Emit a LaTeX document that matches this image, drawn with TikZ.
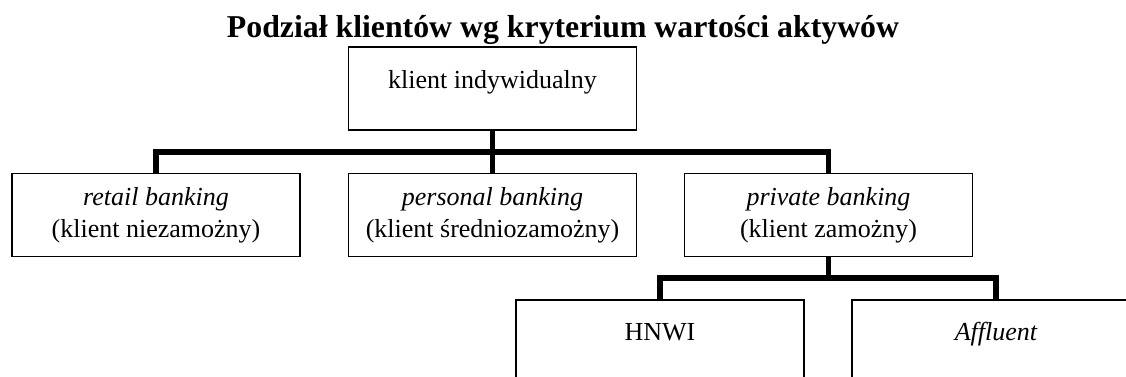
\documentclass[tikz,border=0pt]{standalone}
\usepackage{fontspec}
\setmainfont{Liberation Serif}
\usetikzlibrary{positioning}

\begin{document}
\begin{tikzpicture}[x=0.5pt,y=0.5pt,
  box/.style={draw, line width=0.75pt, minimum width=144pt, minimum height=41.5pt, inner sep=0pt},
  txt/.style={font=\fontsize{13}{16}\selectfont, inner sep=0pt, anchor=base},
  bar/.style={line width=2.6pt}]
\useasboundingbox (0,0) rectangle (1126,376);
\clip (0,0) rectangle (1126,376);
\node[font=\fontsize{15.9}{19}\selectfont\bfseries, inner sep=0pt, anchor=base] (title) at (563,339) {Podział klientów wg kryterium wartości aktywów};
% the boxes
\node[box] (klient) at (492.5,287.5) {};
\node[box] (retail) at (156,161) {};
\node[box] (personal) at (492.5,161) {};
\node[box] (private) at (828.5,161) {};
\node[box] (hnwi) at (660,34.5) {};
\node[box] (affluent) at (996,34.5) {};
% the texts
\node[txt] (tklient) at (492.5,287) {klient indywidualny};
\node[txt] (tretail) at (156,171) {\itshape retail banking};
\node[txt] (tretail2) at (156,139) {(klient niezamożny)};
\node[txt] (tpersonal) at (492.5,171) {\itshape personal banking};
\node[txt] (tpersonal2) at (492.5,139) {(klient średniozamożny)};
\node[txt] (tprivate) at (828.5,171) {\itshape private banking};
\node[txt] (tprivate2) at (828.5,139) {(klient zamożny)};
\node[txt] (thnwi) at (660,36) {HNWI};
\node[txt] (taffluent) at (996,36) {\itshape Affluent};
% the thick connectors
\coordinate (b1) at (492.5,224);
\coordinate (b2) at (828.5,98);
\draw[bar] (klient.south) -- (personal.north);
\draw[bar] (retail.north) |- (b1) -| (private.north);
\draw[bar] (private.south) -- (b2);
\draw[bar] (hnwi.north) |- (b2) -| (affluent.north);
\end{tikzpicture}
\end{document}
